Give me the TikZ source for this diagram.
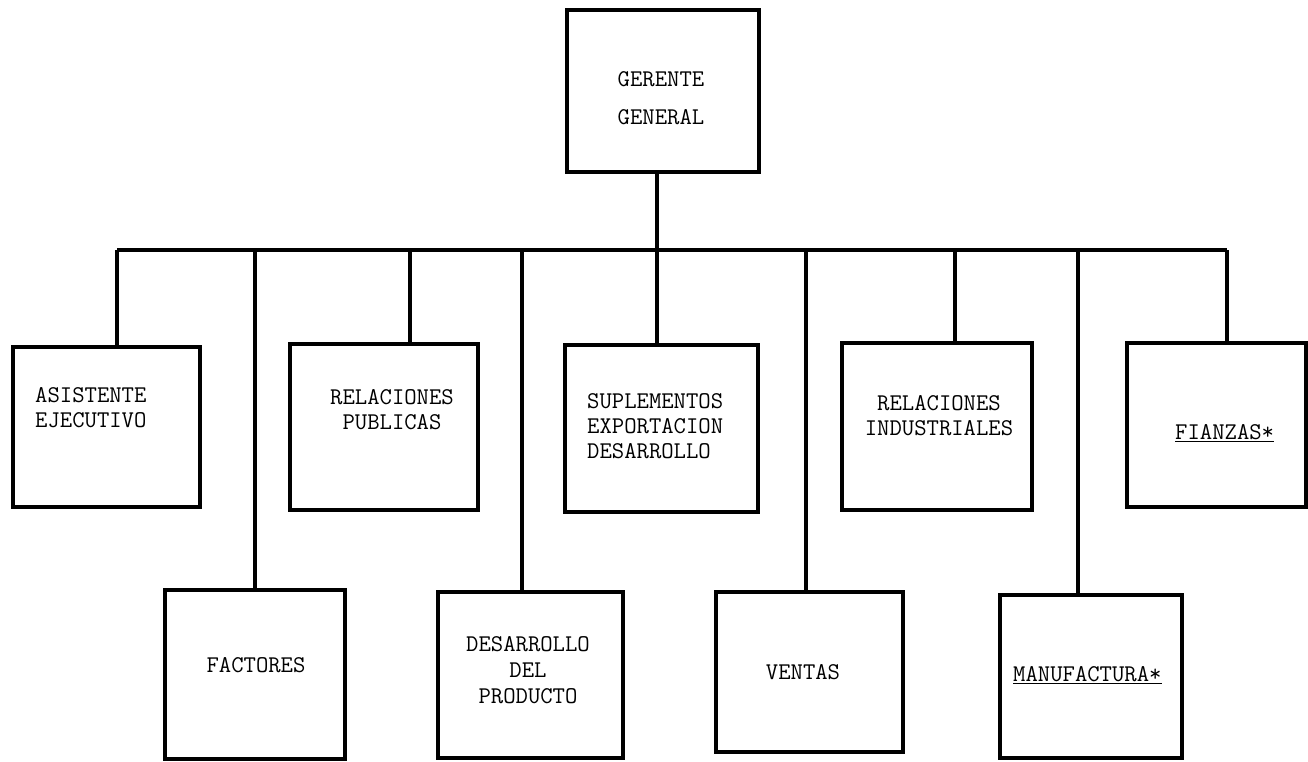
\documentclass[tikz,border=0pt]{standalone}
\usepackage{fontspec}
\begin{document}
\begin{tikzpicture}[x=1pt,y=-1pt,
  box/.style={draw=black, line width=4pt, rectangle, inner sep=0pt},
  lbl/.style={font=\ttfamily\fontsize{24}{25}\selectfont, inner sep=0pt, text=black},
  conn/.style={draw=black, line width=4.5pt}]
\useasboundingbox (0,0) rectangle (1308,762);
\fill[white] (0,0) rectangle (1308,762);
% boxes
\node[box, minimum width=192pt, minimum height=162pt] (gg) at (663,91) {};
\node[box, minimum width=187pt, minimum height=160pt] (asis) at (106.5,427) {};
\node[box, minimum width=188pt, minimum height=166pt] (relpub) at (384,427) {};
\node[box, minimum width=193pt, minimum height=167pt] (supl) at (661.5,428.5) {};
\node[box, minimum width=190pt, minimum height=167pt] (relind) at (937,426.5) {};
\node[box, minimum width=179pt, minimum height=164pt] (fian) at (1216.5,425) {};
\node[box, minimum width=180pt, minimum height=169pt] (fact) at (255,674.5) {};
\node[box, minimum width=185pt, minimum height=166pt] (desa) at (530.5,675) {};
\node[box, minimum width=187pt, minimum height=160pt] (vent) at (809.5,672) {};
\node[box, minimum width=182pt, minimum height=163pt] (manu) at (1091,676.5) {};
% texts
\node[lbl, align=center, font=\ttfamily\fontsize{24}{38}\selectfont] (tgg) at (661,98.5) {GERENTE\\GENERAL};
\node[lbl, align=left, anchor=west] (tasis) at (35,408) {ASISTENTE\\EJECUTIVO};
\node[lbl, align=center] (trelpub) at (392,410) {RELACIONES\\PUBLICAS};
\node[lbl, align=left, anchor=west] (tsupl) at (587,426) {SUPLEMENTOS\\EXPORTACION\\DESARROLLO};
\node[lbl, align=center] (trelind) at (939,416) {RELACIONES\\INDUSTRIALES};
\node[lbl, anchor=west] (tfian) at (1175,433) {\underline{FIANZAS*}};
\node[lbl] (tfact) at (256,665) {FACTORES};
\node[lbl, align=center, font=\ttfamily\fontsize{24}{26}\selectfont] (tdesa) at (528,670) {DESARROLLO\\DEL\\PRODUCTO};
\node[lbl] (tvent) at (803,672) {VENTAS};
\node[lbl, anchor=west] (tmanu) at (1013,675) {\underline{MANUFACTURA*}};
% connector coordinates on the bar
\coordinate (j) at (657,250);
\coordinate (d1) at (117,250);
\coordinate (d2) at (255,250);
\coordinate (d3) at (410,250);
\coordinate (d4) at (522,250);
\coordinate (d5) at (657,250);
\coordinate (d6) at (806,250);
\coordinate (d7) at (955,250);
\coordinate (d8) at (1078,250);
\coordinate (d9) at (1227,250);
% connectors
\draw[conn] (j |- gg.south) -- (j);
\draw[conn] (d1) -- (d9);
\draw[conn] (d1) -- (d1 |- asis.north);
\draw[conn] (d2) -- (d2 |- fact.north);
\draw[conn] (d3) -- (d3 |- relpub.north);
\draw[conn] (d4) -- (d4 |- desa.north);
\draw[conn] (d5) -- (d5 |- supl.north);
\draw[conn] (d6) -- (d6 |- vent.north);
\draw[conn] (d7) -- (d7 |- relind.north);
\draw[conn] (d8) -- (d8 |- manu.north);
\draw[conn] (d9) -- (d9 |- fian.north);
\end{tikzpicture}
\end{document}
